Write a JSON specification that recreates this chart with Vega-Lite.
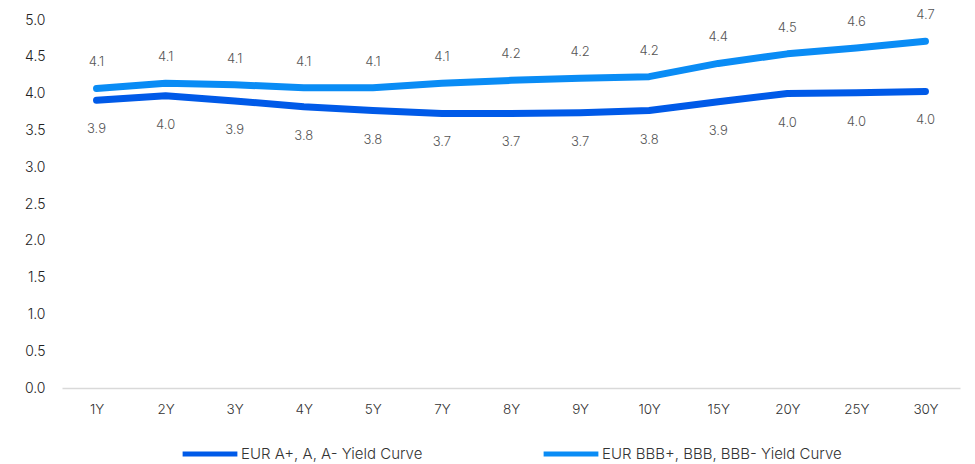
{
  "$schema": "https://vega.github.io/schema/vega-lite/v6.json",
  "width": 898,
  "height": 368,
  "autosize": {"type": "none"},
  "padding": {"left": 62, "top": 20, "right": 15, "bottom": 76},
  "background": "white",
  "config": {
    "view": {"stroke": null},
    "font": "Inter"
  },
  "data": {
    "values": [
      {"tenor": "1Y", "series": "EUR A+, A, A- Yield Curve", "yield": 3.91},
      {"tenor": "2Y", "series": "EUR A+, A, A- Yield Curve", "yield": 3.97},
      {"tenor": "3Y", "series": "EUR A+, A, A- Yield Curve", "yield": 3.9},
      {"tenor": "4Y", "series": "EUR A+, A, A- Yield Curve", "yield": 3.82},
      {"tenor": "5Y", "series": "EUR A+, A, A- Yield Curve", "yield": 3.77},
      {"tenor": "7Y", "series": "EUR A+, A, A- Yield Curve", "yield": 3.73},
      {"tenor": "8Y", "series": "EUR A+, A, A- Yield Curve", "yield": 3.73},
      {"tenor": "9Y", "series": "EUR A+, A, A- Yield Curve", "yield": 3.74},
      {"tenor": "10Y", "series": "EUR A+, A, A- Yield Curve", "yield": 3.77},
      {"tenor": "15Y", "series": "EUR A+, A, A- Yield Curve", "yield": 3.89},
      {"tenor": "20Y", "series": "EUR A+, A, A- Yield Curve", "yield": 4.0},
      {"tenor": "25Y", "series": "EUR A+, A, A- Yield Curve", "yield": 4.01},
      {"tenor": "30Y", "series": "EUR A+, A, A- Yield Curve", "yield": 4.03},
      {"tenor": "1Y", "series": "EUR BBB+, BBB, BBB- Yield Curve", "yield": 4.07},
      {"tenor": "2Y", "series": "EUR BBB+, BBB, BBB- Yield Curve", "yield": 4.14},
      {"tenor": "3Y", "series": "EUR BBB+, BBB, BBB- Yield Curve", "yield": 4.12},
      {"tenor": "4Y", "series": "EUR BBB+, BBB, BBB- Yield Curve", "yield": 4.08},
      {"tenor": "5Y", "series": "EUR BBB+, BBB, BBB- Yield Curve", "yield": 4.08},
      {"tenor": "7Y", "series": "EUR BBB+, BBB, BBB- Yield Curve", "yield": 4.14},
      {"tenor": "8Y", "series": "EUR BBB+, BBB, BBB- Yield Curve", "yield": 4.18},
      {"tenor": "9Y", "series": "EUR BBB+, BBB, BBB- Yield Curve", "yield": 4.21},
      {"tenor": "10Y", "series": "EUR BBB+, BBB, BBB- Yield Curve", "yield": 4.23},
      {"tenor": "15Y", "series": "EUR BBB+, BBB, BBB- Yield Curve", "yield": 4.41},
      {"tenor": "20Y", "series": "EUR BBB+, BBB, BBB- Yield Curve", "yield": 4.54},
      {"tenor": "25Y", "series": "EUR BBB+, BBB, BBB- Yield Curve", "yield": 4.62},
      {"tenor": "30Y", "series": "EUR BBB+, BBB, BBB- Yield Curve", "yield": 4.71}
    ]
  },
  "encoding": {
    "x": {
      "field": "tenor",
      "type": "ordinal",
      "sort": null,
      "scale": {"type": "point", "padding": 0.5},
      "axis": {
        "title": null,
        "labelAngle": 0,
        "ticks": false,
        "domain": true,
        "domainColor": "#d9d9d9",
        "domainWidth": 1.5,
        "labelPadding": 14,
        "labelFontSize": 13.5,
        "labelFontWeight": 300,
        "labelColor": "#333333",
        "grid": false
      }
    },
    "y": {
      "field": "yield",
      "type": "quantitative",
      "scale": {"domain": [0, 5]},
      "axis": {
        "title": null,
        "values": [0, 0.5, 1, 1.5, 2, 2.5, 3, 3.5, 4, 4.5, 5],
        "format": ".1f",
        "ticks": false,
        "domain": false,
        "grid": false,
        "labelPadding": 17,
        "labelFontSize": 14,
        "labelFontWeight": 300,
        "labelColor": "#222222"
      }
    }
  },
  "layer": [
    {
      "mark": {"type": "line", "strokeWidth": 7, "strokeCap": "round", "strokeJoin": "round"},
      "encoding": {
        "color": {
          "field": "series",
          "type": "nominal",
          "scale": {"range": ["#005AE8", "#0A8CF5"]},
          "legend": {
            "title": null,
            "orient": "none",
            "direction": "horizontal",
            "legendX": 118,
            "legendY": 404,
            "symbolType": "stroke",
            "symbolSize": 3000,
            "symbolStrokeWidth": 5,
            "labelFontSize": 15,
            "labelFontWeight": 300,
            "labelColor": "#333333",
            "labelOffset": 1,
            "labelLimit": 400,
            "columnPadding": 110
          }
        }
      }
    },
    {
      "transform": [{"filter": "datum.series == 'EUR BBB+, BBB, BBB- Yield Curve'"}],
      "mark": {"type": "text", "dy": -26, "fontSize": 13, "fontWeight": 300, "color": "#555555"},
      "encoding": {"text": {"field": "yield", "type": "quantitative", "format": ".1f"}}
    },
    {
      "transform": [{"filter": "datum.series == 'EUR A+, A, A- Yield Curve'"}],
      "mark": {"type": "text", "dy": 29, "fontSize": 13, "fontWeight": 300, "color": "#555555"},
      "encoding": {"text": {"field": "yield", "type": "quantitative", "format": ".1f"}}
    }
  ]
}
